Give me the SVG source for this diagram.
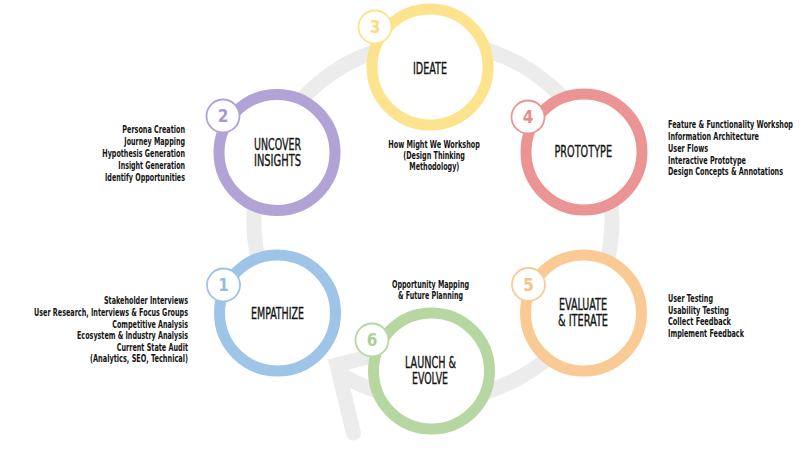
<svg xmlns="http://www.w3.org/2000/svg" width="809" height="455" viewBox="0 0 809 455">
  <style>
    .ring { fill: #ffffff; stroke-width: 11; }
    .badge { fill: #ffffff; stroke-width: 1.8; }
    .num { font-family: "Liberation Sans Narrow", "DejaVu Sans Condensed", "Roboto", sans-serif; font-stretch: condensed; font-weight: bold; font-size: 17px; text-anchor: middle; }
    .title { font-family: "Liberation Sans Narrow", "DejaVu Sans Condensed", "Roboto", sans-serif; font-stretch: condensed; font-size: 15.5px; fill: #141414; stroke: #141414; stroke-width: 0.35; }
    .item { font-family: "Liberation Sans Narrow", "DejaVu Sans Condensed", "Roboto", sans-serif; font-stretch: condensed; font-size: 11px; font-weight: bold; fill: #141414; }
    .track { fill: none; stroke: #ececec; stroke-width: 15; }
  </style>
  <rect width="809" height="455" fill="#ffffff"/>

  <g id="connectors">
    <path class="track" d="M 295.9 336.1 A 179 179 0 1 1 340.8 374.4 L 337 365" stroke-linecap="butt"/>
    <path class="track" d="M 353.4 433 L 337 365 L 404 347.5" stroke-linecap="round" stroke-linejoin="miter"/>
  </g>

  <g id="node-ideate">
    <circle class="ring" cx="430" cy="67" r="58" stroke="#fde38e"/>
    <text class="title" x="413" y="74" textLength="34" lengthAdjust="spacingAndGlyphs">IDEATE</text>
    <circle class="badge" cx="375" cy="27" r="16.5" stroke="#fde38e"/>
    <text class="num" x="375" y="33" fill="#fcdc7e">3</text>
    <text class="item" x="388.3" y="148.3" textLength="91.7" lengthAdjust="spacingAndGlyphs">How Might We Workshop</text>
    <text class="item" x="403.3" y="159.3" textLength="61.7" lengthAdjust="spacingAndGlyphs">(Design Thinking</text>
    <text class="item" x="409.3" y="170" textLength="50" lengthAdjust="spacingAndGlyphs">Methodology)</text>
  </g>

  <g id="node-uncover">
    <circle class="ring" cx="277" cy="152.5" r="58" stroke="#b1a3d6"/>
    <text class="title" x="254" y="149.5" textLength="47" lengthAdjust="spacingAndGlyphs">UNCOVER</text>
    <text class="title" x="254" y="165.5" textLength="47" lengthAdjust="spacingAndGlyphs">INSIGHTS</text>
    <circle class="badge" cx="223" cy="116" r="16.5" stroke="#b1a3d6"/>
    <text class="num" x="223" y="122" fill="#a998d0">2</text>
    <text class="item" x="122.3" y="133.3" textLength="62.7" lengthAdjust="spacingAndGlyphs">Persona Creation</text>
    <text class="item" x="124.3" y="145.2" textLength="60.7" lengthAdjust="spacingAndGlyphs">Journey Mapping</text>
    <text class="item" x="102.3" y="157" textLength="82.7" lengthAdjust="spacingAndGlyphs">Hypothesis Generation</text>
    <text class="item" x="118.3" y="168.9" textLength="66.7" lengthAdjust="spacingAndGlyphs">Insight Generation</text>
    <text class="item" x="105" y="180.7" textLength="80" lengthAdjust="spacingAndGlyphs">Identify Opportunities</text>
  </g>

  <g id="node-prototype">
    <circle class="ring" cx="584" cy="152" r="58" stroke="#ea9594"/>
    <text class="title" x="554.5" y="157.3" textLength="57.5" lengthAdjust="spacingAndGlyphs">PROTOTYPE</text>
    <circle class="badge" cx="528" cy="117" r="16.5" stroke="#ea9594"/>
    <text class="num" x="528" y="123" fill="#e88c8b">4</text>
    <text class="item" x="668" y="127.7" textLength="125" lengthAdjust="spacingAndGlyphs">Feature &amp; Functionality Workshop</text>
    <text class="item" x="668" y="139.7" textLength="91" lengthAdjust="spacingAndGlyphs">Information Architecture</text>
    <text class="item" x="668" y="151.7" textLength="40" lengthAdjust="spacingAndGlyphs">User Flows</text>
    <text class="item" x="668" y="163.5" textLength="78" lengthAdjust="spacingAndGlyphs">Interactive Prototype</text>
    <text class="item" x="668" y="175.3" textLength="115" lengthAdjust="spacingAndGlyphs">Design Concepts &amp; Annotations</text>
  </g>

  <g id="node-empathize">
    <circle class="ring" cx="277.5" cy="313" r="58" stroke="#9ec4e8"/>
    <text class="title" x="251" y="319" textLength="53" lengthAdjust="spacingAndGlyphs">EMPATHIZE</text>
    <circle class="badge" cx="223.5" cy="285" r="16.5" stroke="#9ec4e8"/>
    <text class="num" x="223.5" y="291" fill="#94bde5">1</text>
    <text class="item" x="104" y="304.3" textLength="84" lengthAdjust="spacingAndGlyphs">Stakeholder Interviews</text>
    <text class="item" x="34" y="315.9" textLength="154" lengthAdjust="spacingAndGlyphs">User Research, Interviews &amp; Focus Groups</text>
    <text class="item" x="112.3" y="327.5" textLength="75.7" lengthAdjust="spacingAndGlyphs">Competitive Analysis</text>
    <text class="item" x="77" y="339.1" textLength="111" lengthAdjust="spacingAndGlyphs">Ecosystem &amp; Industry Analysis</text>
    <text class="item" x="116.7" y="350.7" textLength="71.3" lengthAdjust="spacingAndGlyphs">Current State Audit</text>
    <text class="item" x="90" y="362.3" textLength="98" lengthAdjust="spacingAndGlyphs">(Analytics, SEO, Technical)</text>
  </g>

  <g id="node-evaluate">
    <circle class="ring" cx="583.5" cy="313" r="58" stroke="#f9ca93"/>
    <text class="title" x="559" y="310" textLength="48" lengthAdjust="spacingAndGlyphs">EVALUATE</text>
    <text class="title" x="558" y="326" textLength="50" lengthAdjust="spacingAndGlyphs">&amp; ITERATE</text>
    <circle class="badge" cx="528.5" cy="284.5" r="16.5" stroke="#f9ca93"/>
    <text class="num" x="528.5" y="290.5" fill="#f7c388">5</text>
    <text class="item" x="668" y="301.7" textLength="45" lengthAdjust="spacingAndGlyphs">User Testing</text>
    <text class="item" x="668" y="313.5" textLength="61" lengthAdjust="spacingAndGlyphs">Usability Testing</text>
    <text class="item" x="668" y="325.2" textLength="63" lengthAdjust="spacingAndGlyphs">Collect Feedback</text>
    <text class="item" x="668" y="336.8" textLength="76" lengthAdjust="spacingAndGlyphs">Implement Feedback</text>
  </g>

  <g id="node-launch">
    <circle class="ring" cx="431.5" cy="371" r="58" stroke="#b6d7a2"/>
    <text class="title" x="405" y="368" textLength="51" lengthAdjust="spacingAndGlyphs">LAUNCH &amp;</text>
    <text class="title" x="412" y="384" textLength="36" lengthAdjust="spacingAndGlyphs">EVOLVE</text>
    <circle class="badge" cx="372" cy="340" r="16.5" stroke="#b6d7a2"/>
    <text class="num" x="372" y="346" fill="#acd196">6</text>
    <text class="item" x="392" y="288.3" textLength="77" lengthAdjust="spacingAndGlyphs">Opportunity Mapping</text>
    <text class="item" x="398" y="299.3" textLength="65" lengthAdjust="spacingAndGlyphs">&amp; Future Planning</text>
  </g>
</svg>
